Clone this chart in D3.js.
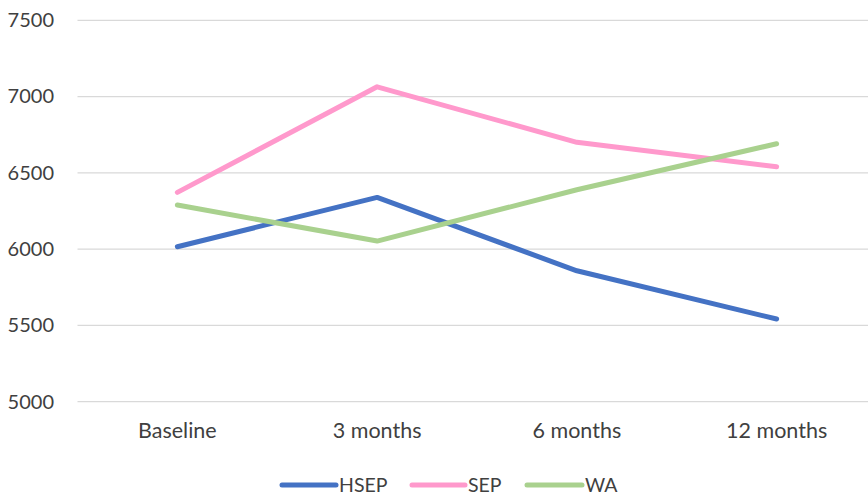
<!DOCTYPE html>
<html>
<head>
<meta charset="utf-8">
<script src="https://cdn.jsdelivr.net/npm/d3@7"></script>
<style>
  html, body { margin: 0; padding: 0; background: #fff; }
  svg { display: block; font-family: Lato, "Open Sans", sans-serif; }
</style>
</head>
<body>
<svg id="chart" width="868" height="495"></svg>
<script>
// Time points and series values
const categories = ["Baseline", "3 months", "6 months", "12 months"];
const hsep = [6016, 6339, 5858, 5542];
const sep  = [6372, 7064, 6700, 6540];
const wa   = [6289, 6053, 6389, 6691];
const yTicks = [5000, 5500, 6000, 6500, 7000, 7500];

const seriesNames = ["HSEP", "SEP", "WA"];
const seriesValues = [hsep, sep, wa];
const colors = ["#4472C4", "#FF99CC", "#A9D18E"];

const svg = d3.select("#chart");
const plotLeft = 77.5, plotRight = 876.5, plotTop = 20.3, plotBottom = 401.7;

const x = d3.scaleBand().domain(categories).range([plotLeft, plotRight]);
const y = d3.scaleLinear().domain([5000, 7500]).range([plotBottom, plotTop]);

// Horizontal gridlines
svg.append("g")
  .selectAll("line")
  .data(yTicks)
  .join("line")
  .attr("x1", plotLeft).attr("x2", 868)
  .attr("y1", d => y(d)).attr("y2", d => y(d))
  .attr("stroke", "#D9D9D9").attr("stroke-width", 1.3);

// Y axis labels
const yAxis = d3.axisLeft(y).tickValues(yTicks).tickSize(0).tickPadding(0).tickFormat(d3.format("d"));
const gy = svg.append("g").attr("transform", "translate(54,0)").call(yAxis);
gy.select(".domain").remove();
gy.selectAll("text").attr("font-size", 20).attr("fill", "#404040")
  .attr("font-family", "Lato, 'Open Sans', sans-serif");

// X axis labels
const xAxis = d3.axisBottom(x).tickSize(0).tickPadding(0);
const gx = svg.append("g").attr("transform", "translate(0,423)").call(xAxis);
gx.select(".domain").remove();
gx.selectAll("text").attr("font-size", 21.5).attr("fill", "#404040")
  .attr("font-family", "Lato, 'Open Sans', sans-serif");

// Series lines
const line = d3.line()
  .x((d, i) => x(categories[i]) + x.bandwidth() / 2)
  .y(d => y(d));

svg.append("g")
  .selectAll("path")
  .data(seriesValues)
  .join("path")
  .attr("d", d => line(d))
  .attr("fill", "none")
  .attr("stroke", (d, i) => colors[i])
  .attr("stroke-width", 5)
  .attr("stroke-linecap", "round")
  .attr("stroke-linejoin", "round");

// Legend
const legendItems = [
  { x1: 282, x2: 336, tx: 339 },
  { x1: 412, x2: 465, tx: 468 },
  { x1: 527, x2: 582, tx: 585 }
];
const lg = svg.append("g");
const ly = 485;
legendItems.forEach((it, i) => {
  lg.append("line")
    .attr("x1", it.x1).attr("x2", it.x2)
    .attr("y1", ly).attr("y2", ly)
    .attr("stroke", colors[i]).attr("stroke-width", 5)
    .attr("stroke-linecap", "round");
  lg.append("text")
    .attr("x", it.tx).attr("y", ly)
    .attr("dy", "0.34em")
    .attr("font-size", 19.5).attr("fill", "#404040")
    .text(seriesNames[i]);
});
</script>
</body>
</html>
